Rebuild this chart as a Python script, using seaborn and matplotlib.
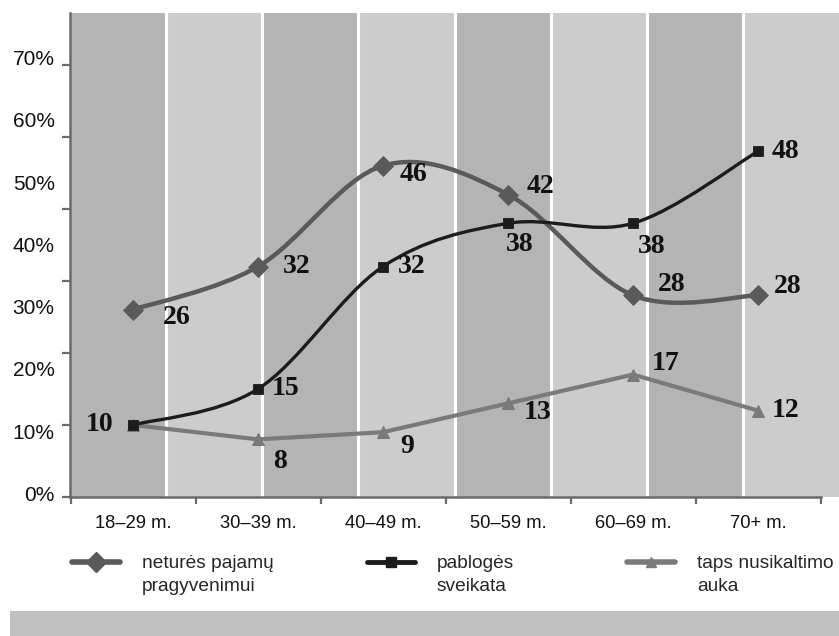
import numpy as np
import pandas as pd
import matplotlib.pyplot as plt
import seaborn as sns
from matplotlib.path import Path
from matplotlib.patches import PathPatch, Rectangle
from matplotlib.lines import Line2D

#------------------------------------------------------------------------------
# data
age_groups = ['18–29 m.', '30–39 m.', '40–49 m.', '50–59 m.', '60–69 m.', '70+ m.']
netures = [26, 32, 46, 42, 28, 28]
pabloges = [10, 15, 32, 38, 38, 48]
taps = [10, 8, 9, 13, 17, 12]
y_labels = ['0%', '10%', '20%', '30%', '40%', '50%', '60%', '70%']
series_names = [['neturės pajamų', 'pragyvenimui'], ['pablogės', 'sveikata'], ['taps nusikaltimo', 'auka']]

#------------------------------------------------------------------------------
sns.set_theme(style='white')
plt.rcParams['font.family'] = ['Liberation Sans', 'DejaVu Sans']

c_net = '#5a5a5a'
c_pab = '#1c1c1c'
c_taps = '#7a7a7a'
dark_band = '#b4b4b4'
light_band = '#cccccc'
axis_col = '#6b6b6b'

x = np.arange(len(age_groups))
df = pd.DataFrame({'x': x, 'netures': netures, 'pabloges': pabloges, 'taps': taps})

fig = plt.figure(figsize=(8.39, 6.36), dpi=100)
ax = fig.add_axes([70/839, 139/636, 769/839, 484/636])
ax.set_xlim(-0.504, 5.648)
ax.set_ylim(0, 67.2)

# alternating background bands
edges = np.linspace(-0.504, 5.648, 9)
for k in range(8):
    ax.axvspan(edges[k], edges[k+1], color=dark_band if k % 2 == 0 else light_band, lw=0, zorder=0)
for e in edges[1:-1]:
    ax.axvline(e, color='white', lw=2.2, zorder=0.5)

#++++++++++++++++++++++++++++++++++++++++++++++++++++++++++++++++++++++++++++++
def smooth_path(xs, ys):
    # catmull-rom style bezier through the points (like excel smoothed line)
    pts = np.column_stack([xs, ys]).astype(float)
    n = len(pts)
    verts = [pts[0]]
    codes = [Path.MOVETO]
    for i in range(n-1):
        p0 = pts[max(i-1, 0)]
        p1 = pts[i]
        p2 = pts[i+1]
        p3 = pts[min(i+2, n-1)]
        verts += [p1 + (p2-p0)/6, p2 - (p3-p1)/6, p2]
        codes += [Path.CURVE4]*3
    return Path(verts, codes)
#++++++++++++++++++++++++++++++++++++++++++++++++++++++++++++++++++++++++++++++

ax.add_patch(PathPatch(smooth_path(df.x, df.netures), fc='none', ec=c_net, lw=3.2, zorder=3, capstyle='round'))
ax.add_patch(PathPatch(smooth_path(df.x, df.pabloges), fc='none', ec=c_pab, lw=2.4, zorder=4, capstyle='round'))
sns.lineplot(data=df, x='x', y='taps', ax=ax, color=c_taps, lw=3, marker='^', markersize=8,
             markeredgecolor=c_taps, zorder=2)
sns.scatterplot(data=df, x='x', y='netures', ax=ax, color=c_net, marker='D', s=100, edgecolor=c_net, zorder=5)
sns.scatterplot(data=df, x='x', y='pabloges', ax=ax, color=c_pab, marker='s', s=60, edgecolor=c_pab, zorder=6)

# value labels, offsets in pixels (dx, dy, ha)
lab_net = [(30, -8, 'left'), (25, 0, 'left'), (17, -9, 'left'), (19, 8, 'left'), (25, 11, 'left'), (16, 9, 'left')]
lab_pab = [(-20, 0, 'right'), (14, 0, 'left'), (15, 0, 'left'), (-2, -21, 'left'), (5, -23, 'left'), (14, 0, 'left')]
lab_taps = [None, (15, -22, 'left'), (17, -14, 'left'), (16, -9, 'left'), (19, 11, 'left'), (14, 0, 'left')]
for vals, offs in [(netures, lab_net), (pabloges, lab_pab), (taps, lab_taps)]:
    for xi, v, o in zip(x, vals, offs):
        if o is None:
            continue
        ax.annotate(str(v), (xi, v), xytext=(o[0]*0.72, o[1]*0.72), textcoords='offset points',
                    ha=o[2], va='center', fontsize=20, fontweight='bold',
                    family=['Liberation Serif', 'DejaVu Serif'], color='#111111', zorder=7)

#------------------------------------------------------------------------------
# axes and ticks
for s in ['top', 'right']:
    ax.spines[s].set_visible(False)
for s in ['left', 'bottom']:
    ax.spines[s].set_color(axis_col)
    ax.spines[s].set_linewidth(1.8)
    ax.spines[s].set_zorder(8)
ax.spines['bottom'].set_bounds(-0.5, 5.5)

ax.set_xticks(np.arange(-0.5, 6, 1))
ax.set_xticks(x, minor=True)
ax.set_xticklabels(age_groups, minor=True)
ax.tick_params(axis='x', which='major', length=5, width=1.6, color=axis_col, direction='out', labelbottom=False, bottom=True)
ax.tick_params(axis='x', which='minor', length=0, pad=13, labelsize=13.2, labelcolor='#111111', bottom=True)

ax.set_yticks(np.arange(0, 61, 10))
ax.set_yticks(np.linspace(0.5, 61.0, 8), minor=True)
ax.set_yticklabels(y_labels, minor=True)
ax.tick_params(axis='y', which='major', length=6, width=1.6, color=axis_col, direction='out', labelleft=False, left=True)
ax.tick_params(axis='y', which='minor', length=0, pad=11, labelsize=15, labelcolor='#111111', left=True)
ax.set_xlabel('')
ax.set_ylabel('')

#------------------------------------------------------------------------------
# legend, one block per series (handle next to the first text line)
handles = [
    Line2D([], [], color=c_net, lw=4, marker='D', markersize=10),
    Line2D([], [], color=c_pab, lw=3.5, marker='s', markersize=7),
    Line2D([], [], color=c_taps, lw=4, marker='^', markersize=7),
]
blank = Line2D([], [], color='none')
leg_x = [72/839, 367/839, 627/839]
for h, name, lx in zip(handles, series_names, leg_x):
    fig.legend([h, blank], name, loc='upper left', bbox_to_anchor=(lx, 81/636), frameon=False,
               fontsize=13.8, handlelength=2.5, handletextpad=1.15, borderpad=0, borderaxespad=0,
               labelspacing=0.25)

fig.add_artist(Rectangle((10/839, 0), 1, 25/636, transform=fig.transFigure, color='#c0c0c0', lw=0))

plt.savefig('out.png', dpi=100)
